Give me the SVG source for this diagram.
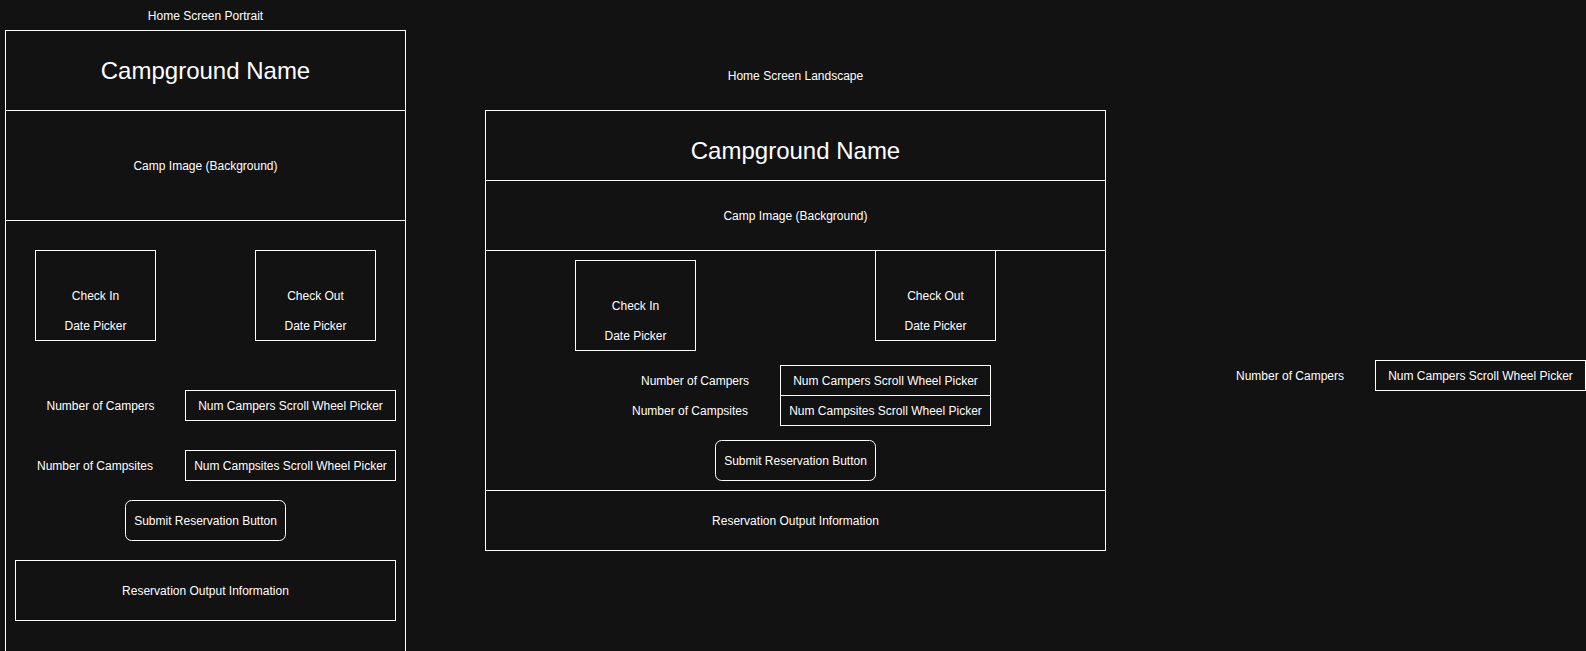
<svg xmlns="http://www.w3.org/2000/svg" width="1586" height="651" viewBox="0 0 1586 651">
<style>
.b{fill:none;stroke:#ffffff;stroke-width:1}
.t{font-family:"Liberation Sans",Arial,sans-serif;font-size:12px;fill:#ffffff;text-anchor:middle}
.h{font-family:"Liberation Sans",Arial,sans-serif;font-size:24px;fill:#ffffff;text-anchor:middle}
</style>
<rect width="1586" height="651" fill="#121212"/>
<g id="portrait">
  <text class="t" x="205.5" y="20">Home Screen Portrait</text>
  <g id="p-header"><rect class="b" x="5.5" y="30.5" width="400" height="80"/><text class="h" x="205.5" y="79">Campground Name</text></g>
  <g id="p-image"><rect class="b" x="5.5" y="110.5" width="400" height="110"/><text class="t" x="205.5" y="170">Camp Image (Background)</text></g>
  <g id="p-body"><rect class="b" x="5.5" y="220.5" width="400" height="440"/></g>
  <g id="p-checkin"><rect class="b" x="35.5" y="250.5" width="120" height="90"/><text class="t" x="95.5" y="300">Check In</text><text class="t" x="95.5" y="330">Date Picker</text></g>
  <g id="p-checkout"><rect class="b" x="255.5" y="250.5" width="120" height="90"/><text class="t" x="315.5" y="300">Check Out</text><text class="t" x="315.5" y="330">Date Picker</text></g>
  <g id="p-campers-label"><text class="t" x="100.5" y="410">Number of Campers</text></g>
  <g id="p-campers"><rect class="b" x="185.5" y="390.5" width="210" height="30"/><text class="t" x="290.5" y="410">Num Campers Scroll Wheel Picker</text></g>
  <g id="p-campsites-label"><text class="t" x="95" y="470">Number of Campsites</text></g>
  <g id="p-campsites"><rect class="b" x="185.5" y="450.5" width="210" height="30"/><text class="t" x="290.5" y="470">Num Campsites Scroll Wheel Picker</text></g>
  <g id="p-submit"><rect class="b" x="125.5" y="500.5" width="160" height="40" rx="6" ry="6"/><text class="t" x="205.5" y="525">Submit Reservation Button</text></g>
  <g id="p-output"><rect class="b" x="15.5" y="560.5" width="380" height="60"/><text class="t" x="205.5" y="595">Reservation Output Information</text></g>
</g>
<g id="landscape">
  <text class="t" x="795.5" y="80">Home Screen Landscape</text>
  <g id="l-header"><rect class="b" x="485.5" y="110.5" width="620" height="70"/><text class="h" x="795.5" y="159">Campground Name</text></g>
  <g id="l-image"><rect class="b" x="485.5" y="180.5" width="620" height="70"/><text class="t" x="795.5" y="220">Camp Image (Background)</text></g>
  <g id="l-body"><rect class="b" x="485.5" y="250.5" width="620" height="240"/></g>
  <g id="l-checkin"><rect class="b" x="575.5" y="260.5" width="120" height="90"/><text class="t" x="635.5" y="310">Check In</text><text class="t" x="635.5" y="340">Date Picker</text></g>
  <g id="l-checkout"><rect class="b" x="875.5" y="250.5" width="120" height="90"/><text class="t" x="935.5" y="300">Check Out</text><text class="t" x="935.5" y="330">Date Picker</text></g>
  <g id="l-campers-label"><text class="t" x="695" y="385">Number of Campers</text></g>
  <g id="l-campers"><rect class="b" x="780.5" y="365.5" width="210" height="30"/><text class="t" x="885.5" y="385">Num Campers Scroll Wheel Picker</text></g>
  <g id="l-campsites-label"><text class="t" x="690" y="415">Number of Campsites</text></g>
  <g id="l-campsites"><rect class="b" x="780.5" y="395.5" width="210" height="30"/><text class="t" x="885.5" y="415">Num Campsites Scroll Wheel Picker</text></g>
  <g id="l-submit"><rect class="b" x="715.5" y="440.5" width="160" height="40" rx="6" ry="6"/><text class="t" x="795.5" y="465">Submit Reservation Button</text></g>
  <g id="l-output"><rect class="b" x="485.5" y="490.5" width="620" height="60"/><text class="t" x="795.5" y="525">Reservation Output Information</text></g>
</g>
<g id="extra">
  <g id="x-campers-label"><text class="t" x="1290" y="380">Number of Campers</text></g>
  <g id="x-campers"><rect class="b" x="1375.5" y="360.5" width="210" height="30"/><text class="t" x="1480.5" y="380">Num Campers Scroll Wheel Picker</text></g>
</g>
<g id="connectors"></g>
</svg>
